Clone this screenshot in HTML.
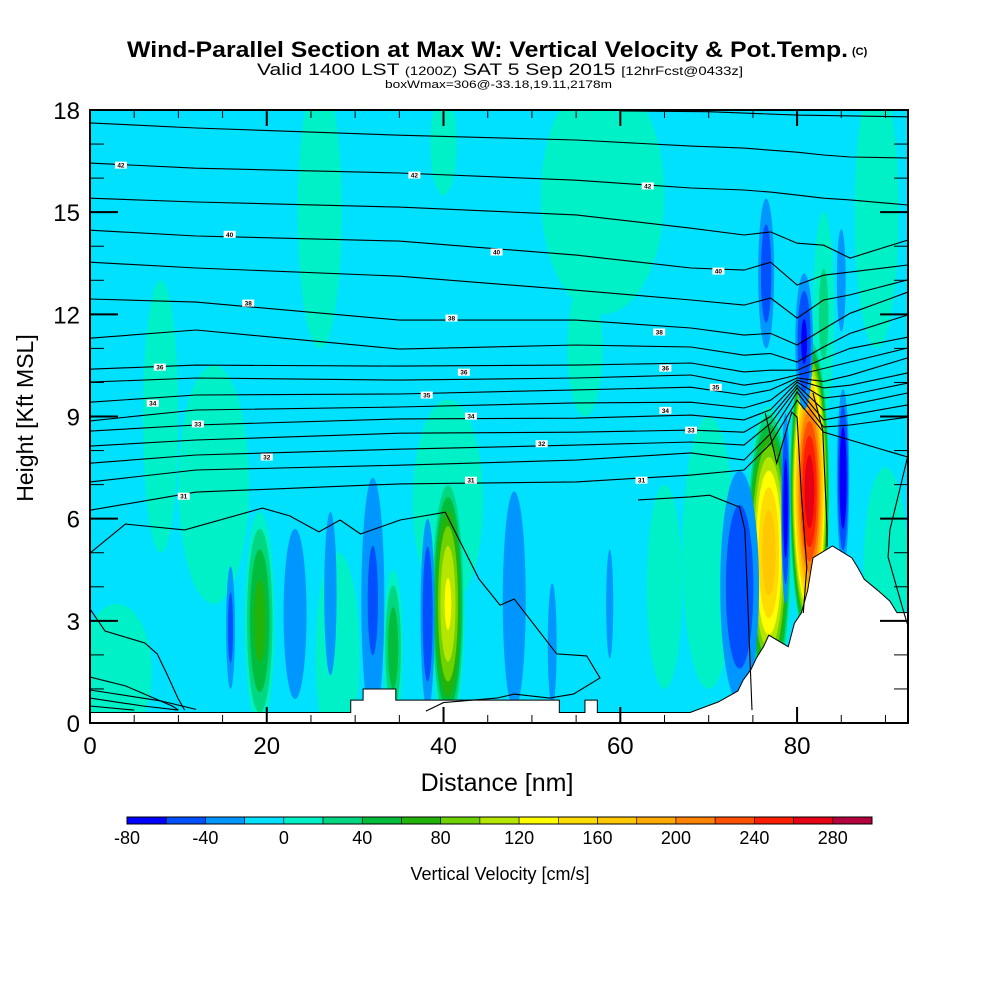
<!DOCTYPE html>
<html><head><meta charset="utf-8"><title>Wind-Parallel Section</title>
<style>
html,body{margin:0;padding:0;background:#fff;}
svg{display:block;font-family:"Liberation Sans",Arial,sans-serif;}
</style></head>
<body>
<svg id="chart" width="1000" height="1000" viewBox="0 0 1000 1000">
<text x="127" y="57" font-size="22" font-weight="bold" textLength="721" lengthAdjust="spacingAndGlyphs">Wind-Parallel Section at Max W: Vertical Velocity &amp; Pot.Temp.</text>
<text x="852" y="55" font-size="11" font-weight="bold">(C)</text>
<text x="257" y="75" font-size="17" textLength="486" lengthAdjust="spacingAndGlyphs">Valid 1400 LST <tspan font-size="12">(1200Z)</tspan> SAT 5 Sep 2015 <tspan font-size="12">[12hrFcst@0433z]</tspan></text>
<text x="385" y="88" font-size="11" textLength="227" lengthAdjust="spacingAndGlyphs">boxWmax=306@-33.18,19.11,2178m</text>
<defs><clipPath id="plotclip"><rect x="90" y="110" width="818" height="613"/></clipPath></defs>
<g id="plot" clip-path="url(#plotclip)">
<rect x="90" y="110" width="818" height="613" fill="#00e1ff"/>
<g id="wfield"></g>
<g id="terrain"></g>
<g id="isentropes"></g>
</g>
<rect x="90" y="110" width="818" height="613" fill="none" stroke="#000" stroke-width="2"/>
<g id="axes"></g>
<text x="497" y="791" font-size="25" text-anchor="middle">Distance [nm]</text>
<text transform="translate(33,418) rotate(-90)" font-size="23" text-anchor="middle">Height [Kft MSL]</text>
<g id="colorbar"></g>
<text x="500" y="880" font-size="18" text-anchor="middle">Vertical Velocity [cm/s]</text>
</svg>
<script>
// ---- data ----
const xTicks = [0,20,40,60,80];
const yTicks = [0,3,6,9,12,15,18];
const cbLevels = [-80,-60,-40,-20,0,20,40,60,80,100,120,140,160,180,200,220,240,260,280,300];
const cbColors = ["#0000ff","#0050ff","#0096ff","#00e1ff","#00f0c8","#00d780","#00be3c","#22b40a","#6ed200","#b4e600","#ffff00","#ffdc00","#ffc800","#ffaa00","#ff8200","#ff5000","#ff1e00","#e60014","#b4003c"];
const cbLabels = [-80,-40,0,40,80,120,160,200,240,280];
// vertical velocity cells: distance (nm), height (kft), half-width (nm), half-height (kft), peak (cm/s)
const wDist = [3,8,14,28,40,58,56,40.5,65,70,89,90,83,26,   34.3,19.2,40.5,76.8,81.4,   15.9,23.2,27.2,32,38.2,48,52.3,58.8,73.5,78.7,85.2,76.5,80.8,85.0];
const wHgt  = [1.5,9,7,2,17,15.5,11,6.5,4,5,15,4.5,12,15, 2.2,3.0,3.5,5.0,6.8,   2.8,3.2,3.8,3.6,3.2,3.6,2.3,3.5,4.0,6.3,7.2,13.2,11.2,13.0];
const wRx   = [4,2,4,2.5,1.5,7,2,4,2,3,2.5,2.5,1.2,2.5,   1.1,1.7,1.9,2.6,2.3,   0.5,1.3,0.7,1.3,0.8,1.3,0.5,0.4,2.2,0.5,0.7,0.9,1.0,0.5];
const wRy   = [2,4,3.5,3,1.5,3.5,2,3,3,4,4,3,3,4,         2.3,3.2,3.8,4.3,4.6,   1.8,2.5,2.4,3.6,2.8,3.2,1.8,1.6,3.4,2.8,2.6,2.2,2.0,1.5];
const wPeak = [15,15,15,15,15,12,12,15,15,15,12,15,25,15, 55,70,125,175,275,   -50,-40,-40,-45,-60,-40,-40,-35,-60,-75,-80,-55,-65,-40];
// terrain profile
const terrD = [0,29.5,29.5,30.9,30.9,34.6,34.6,53.1,53.1,56,56,57.4,57.4,67.9,71.1,73.3,73.9,74.8,75.4,76.2,76.8,79.0,79.7,80.5,81.2,81.8,84.0,86.2,86.9,87.6,89.1,90.5,91.3,92.6];
const terrH = [0.31,0.31,0.67,0.67,1.0,1.0,0.67,0.67,0.31,0.31,0.67,0.67,0.31,0.31,0.62,0.94,1.26,1.58,1.91,2.24,2.58,2.24,2.93,3.24,3.90,4.85,5.20,4.85,4.55,4.22,3.90,3.58,3.24,3.24];
// isentropes (kft) sampled at these distances
const thD = [0,12,35,55,68,74,77,80,83,86,92.5];
const th1  = [17.62,17.47,17.26,17.12,16.94,16.88,16.82,16.76,16.68,16.62,16.59];
const th2  = [16.44,16.29,16.15,15.94,15.71,15.65,15.59,15.50,15.41,15.36,15.21];
const th3  = [15.41,15.30,15.15,14.92,14.53,14.33,14.42,14.09,14.03,13.65,14.18];
const th4  = [14.47,14.30,14.15,13.74,13.36,13.30,13.53,12.86,13.15,13.24,13.45];
const th5  = [13.53,13.36,13.12,12.71,12.42,12.27,12.48,11.89,12.42,12.57,13.01];
const th6  = [12.45,12.36,11.83,11.83,11.60,11.39,11.44,11.10,11.57,12.03,12.65];
const th7  = [11.30,11.54,10.98,11.10,11.04,10.80,10.85,10.60,11.04,11.44,11.98];
const th8  = [10.39,10.51,10.48,10.51,10.57,10.31,10.36,10.36,10.70,11.00,11.33];
const th9  = [10.01,10.13,10.07,10.13,10.22,9.92,10.03,10.22,10.41,10.60,11.01];
const th10 = [9.42,9.63,9.66,9.78,9.86,9.63,9.78,10.13,10.03,10.21,10.72];
const th11 = [8.87,9.19,9.28,9.40,9.42,9.25,9.48,10.07,9.84,9.92,10.28];
const th12 = [8.57,8.75,8.93,8.95,9.04,8.90,9.20,10.01,9.54,9.63,9.98];
const th13 = [8.13,8.31,8.51,8.54,8.60,8.54,9.00,9.92,9.19,9.34,9.69];
const th14 = [7.63,7.87,8.04,8.16,8.25,8.16,8.80,9.84,8.90,9.04,9.34];
const th15 = [7.08,7.43,7.57,7.72,7.93,7.72,8.50,9.72,8.69,8.75,8.98];
const th16 = [6.25,6.78,7.02,7.08,7.28,7.43,8.20,9.48,8.54,8.31,7.81];
// partial / folded isentropes: distance list + height list
const th0D = [60,70,80,92.5], th0H = [17.97,17.95,17.85,17.8];
const th17D = [0,4,10.7,19.5,22.6,25.9,28.3,30.6,35.1,40.2,44,46.4,48,52.8,56.2,57.7,54.7,52,48,46,40,38];
const th17H = [4.99,5.84,5.67,6.31,6.08,5.61,5.96,5.55,5.96,6.19,4.23,3.46,3.64,2.03,1.97,1.32,0.85,0.73,0.85,0.73,0.6,0.35];
const thAD = [0,1.7,6.2,7.6,8.7,9.95,10.7], thAH = [3.35,2.70,2.35,2.03,1.44,0.73,0.38];
const thBD = [0,4,9.3,10], thBH = [1.35,1.09,0.50,0.38];
const thCD = [0,8,12], thCH = [0.97,0.65,0.4];
const thDD = [0,6,10], thDH = [0.73,0.5,0.38];
const thED = [0,5], thEH = [0.5,0.38];
const f1D = [62,67.9,70.1,73.5,74.1,74.9], f1H = [6.55,6.64,6.69,6.34,5.67,0.38];
const f2D = [76.4,77.7,79.4,80,80.5,81.1,80.7], f2H = [9.10,7.63,9.13,8.98,6.64,4.58,3.23];
const f3D = [81.8,82.9,83.4,83.4], f3H = [9.69,8.60,5.67,5.17];
const f5D = [92.5,90.5,90.3,92,92.5], f5H = [7.81,5.67,4.87,3.32,2.88];
// contour labels: distance, height
const lblD = [3.5,15.8,17.9,7.9,7.1,12.2,20,10.6,36.7,46,40.9,42.3,38.1,43.1,51.1,43.1,63.1,71.1,64.4,65.1,70.8,65.1,68,62.4];
const lblH = [16.38,14.35,12.33,10.45,9.39,8.78,7.81,6.66,16.09,13.83,11.89,10.3,9.63,9.01,8.2,7.13,15.77,13.27,11.48,10.42,9.86,9.18,8.6,7.13];
const lblTxt = ["42","40","38","36","34","33","32","31","42","40","38","36","35","34","32","31","42","40","38","36","35","34","33","31"];

// ---- scales ----
const X0=90, X1=908, Y0=723, Y1=110, DMAX=92.55, HMAX=18;
function sx(d){return X0+(X1-X0)*d/DMAX;}
function sy(h){return Y0-(Y0-Y1)*h/HMAX;}
const NS="http://www.w3.org/2000/svg";
function mk(tag,attrs,parent){const e=document.createElementNS(NS,tag);for(const k in attrs)e.setAttribute(k,attrs[k]);parent.appendChild(e);return e;}
function colorFor(v){for(let i=0;i<cbColors.length;i++){if(v<cbLevels[i+1])return cbColors[i];}return cbColors[cbColors.length-1];}

// ---- velocity field ----
const wg=document.getElementById('wfield');
const order=wPeak.map((p,i)=>i).sort((a,b)=>{
  const sa=wPeak[a]>0?0:1, sb=wPeak[b]>0?0:1;
  if(sa!==sb)return sa-sb;
  return Math.abs(wPeak[a])-Math.abs(wPeak[b]);
});
order.forEach(i=>{
  const P=wPeak[i];
  const thr=[];
  if(P>0){for(let t=0;t<P;t+=20)thr.push(t);}else{for(let t=-20;t>P;t-=20)thr.push(t);}
  const base = P>0?0:-20;
  thr.forEach(t=>{
    const r=Math.sqrt(1-(t-base)/(P-base));
    const e=mk('ellipse',{cx:sx(wDist[i]),cy:sy(wHgt[i]),rx:(sx(wRx[i])-sx(0))*r,ry:(sy(0)-sy(wRy[i]))*r,fill:colorFor(P>0?t+1:t-1)},wg);
    
    
  });
});

// ---- terrain ----
(function(){
  let pts=terrD.map((d,i)=>sx(d)+','+sy(terrH[i]));
  pts.push(sx(DMAX+1)+','+sy(terrH[terrH.length-1]));
  pts.push(sx(DMAX+1)+','+(Y0+5));pts.push(sx(-1)+','+(Y0+5));pts.push(sx(-1)+','+sy(terrH[0]));
  const p=mk('polygon',{points:pts.join(' '),fill:'#fff',stroke:'#000','stroke-width':1},document.getElementById('terrain'));
  
  
})();

// ---- isentropes ----
const ig=document.getElementById('isentropes');
function line(D,H){
  const p=mk('polyline',{points:D.map((d,i)=>sx(d).toFixed(1)+','+sy(H[i]).toFixed(1)).join(' '),fill:'none',stroke:'#000','stroke-width':1.1},ig);
  
  
}
[th1,th2,th3,th4,th5,th6,th7,th8,th9,th10,th11,th12,th13,th14,th15,th16].forEach(h=>line(thD,h));
line(th0D,th0H);line(th17D,th17H);line(thAD,thAH);line(thBD,thBH);line(thCD,thCH);line(thDD,thDH);line(thED,thEH);
line(f1D,f1H);line(f2D,f2H);line(f3D,f3H);line(f5D,f5H);
lblD.forEach((d,i)=>{
  const g=mk('g',{},ig);
  
  
  mk('rect',{x:sx(d)-6,y:sy(lblH[i])-3.5,width:12,height:7,fill:'#fff'},g);
  const t=mk('text',{x:sx(d),y:sy(lblH[i])+2.5,'font-size':6.5,'font-weight':'bold','text-anchor':'middle'},g);
  t.textContent=lblTxt[i];
});

// ---- axes ----
const ag=document.getElementById('axes');
for(let d=0;d<=DMAX;d+=5){
  const major=(d%20===0);const L=major?16:8;
  mk('line',{x1:sx(d),x2:sx(d),y1:Y0,y2:Y0-L,stroke:'#000','stroke-width':major?2:1},ag);
  mk('line',{x1:sx(d),x2:sx(d),y1:Y1,y2:Y1+L,stroke:'#000','stroke-width':major?2:1},ag);
}
for(let h=0;h<=HMAX;h+=1){
  const major=(h%3===0);const L=major?28:14;
  mk('line',{x1:X0,x2:X0+L,y1:sy(h),y2:sy(h),stroke:'#000','stroke-width':major?2:1},ag);
  mk('line',{x1:X1,x2:X1-L,y1:sy(h),y2:sy(h),stroke:'#000','stroke-width':major?2:1},ag);
}
xTicks.forEach(v=>{
  const t=mk('text',{x:sx(v),y:754,'font-size':24,'text-anchor':'middle'},ag);
  
  
  t.textContent=v;
});
yTicks.forEach(v=>{
  const t=mk('text',{x:80,y:sy(v)+9,'font-size':24,'text-anchor':'end'},ag);
  
  
  t.textContent=v;
});

// ---- colorbar ----
const cg=document.getElementById('colorbar');
const CB0=127, CBW=745/19;
function cx(v){return CB0+(v-cbLevels[0])/20*CBW;}
cbColors.forEach((c,i)=>{
  const r=mk('rect',{x:cx(cbLevels[i]),y:817,width:CBW,height:7,fill:c,stroke:'#000','stroke-width':0.6},cg);
  
  
});
mk('rect',{x:CB0,y:817,width:745,height:7,fill:'none',stroke:'#000','stroke-width':1},cg);
cbLabels.forEach(v=>{
  const t=mk('text',{x:cx(v),y:844,'font-size':18,'text-anchor':'middle'},cg);
  
  
  t.textContent=v;
});
</script>
</body></html>
